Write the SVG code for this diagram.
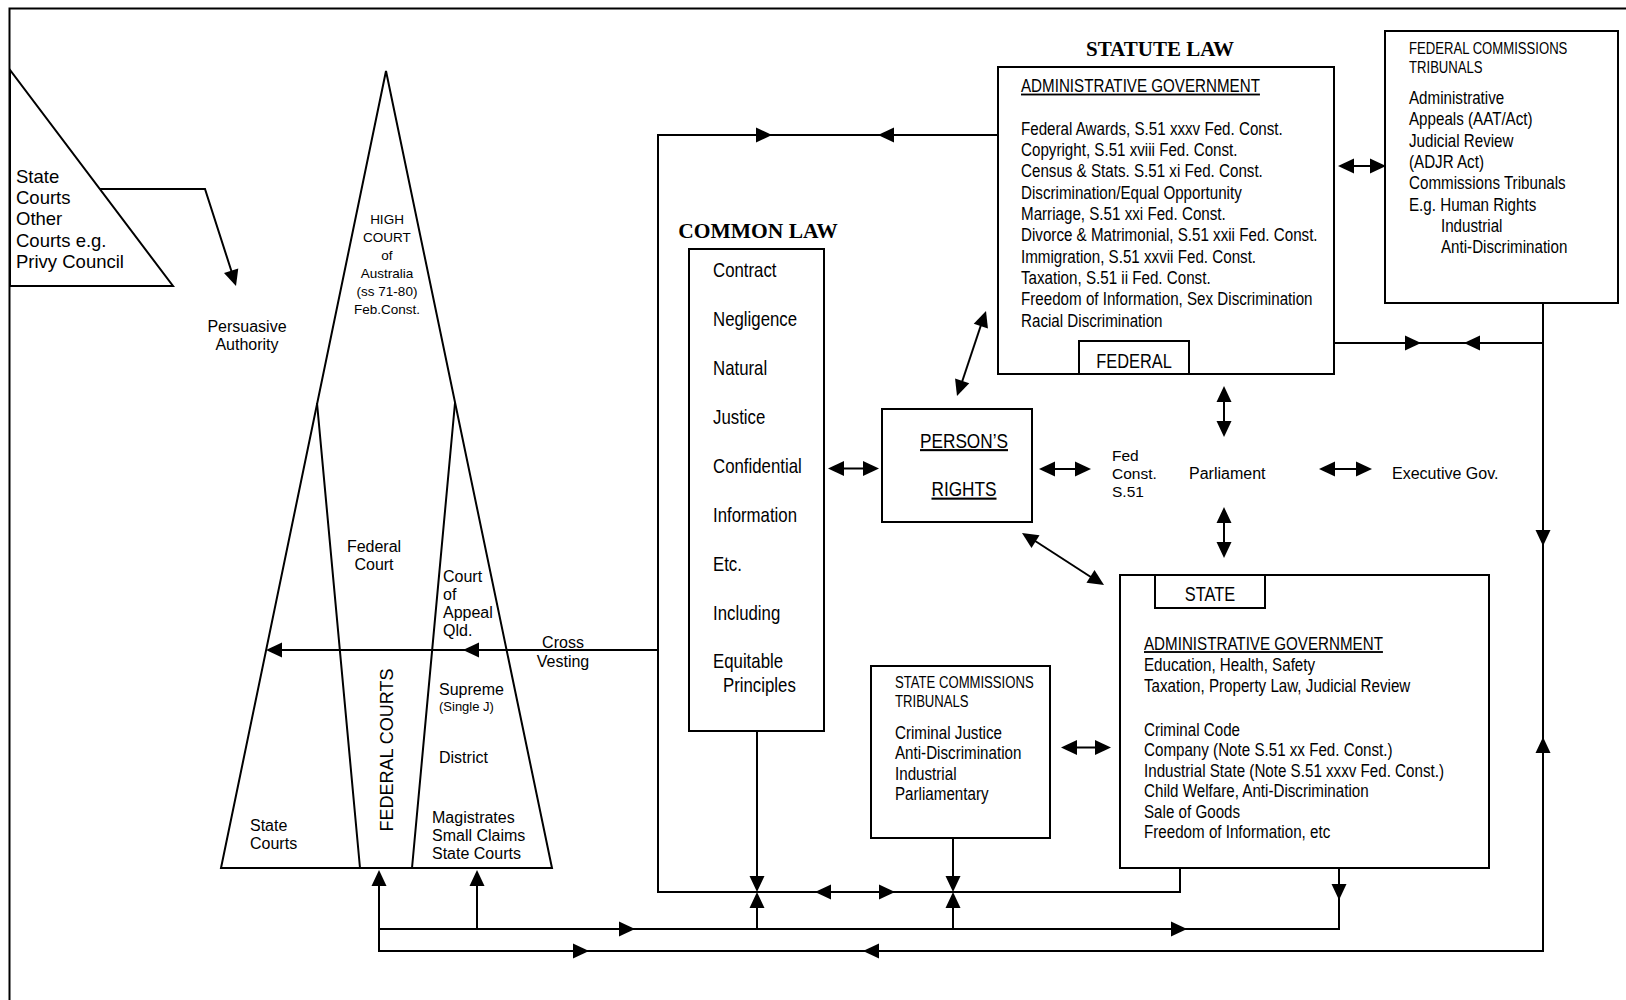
<svg xmlns="http://www.w3.org/2000/svg" xmlns:xlink="http://www.w3.org/1999/xlink" width="1626" height="1000" viewBox="0 0 1626 1000">
<style>
.n{font-family:"Liberation Sans",Arial,sans-serif;fill:#000}
.a{font-family:"Liberation Sans",Arial,sans-serif;fill:#000}
.b{font-family:"Liberation Serif","Times New Roman",serif;font-weight:bold;fill:#000}
.s{fill:none;stroke:#000;stroke-width:2}
.bx{fill:#fff;stroke:#000;stroke-width:2}
.u{text-decoration:underline}
.m{text-anchor:middle}
</style>
<defs>
<path id="ah" d="M0,0 L-16,-7.5 L-16,7.5 Z" fill="#000"/>
</defs>
<rect x="0" y="0" width="1626" height="1000" fill="#fff"/>
<path class="s" d="M9.5,1000 V8.5 H1626"/>

<g id="other-courts">
<polygon class="s" points="10,70 10,286 173,286"/>
<text class="a" font-size="18.5"><tspan x="16" y="183">State</tspan><tspan x="16" y="204">Courts</tspan><tspan x="16" y="225">Other</tspan><tspan x="16" y="246.5">Courts e.g.</tspan><tspan x="16" y="268">Privy Council</tspan></text>
</g>

<g id="persuasive-authority">
<text class="a m" font-size="16"><tspan x="247" y="332">Persuasive</tspan><tspan x="247" y="350">Authority</tspan></text>
</g>

<g id="court-hierarchy">
<polygon class="s" points="386,71 221,868 552,868"/>
<path class="s" d="M317,403 L360,868 M455,403 L412,868"/>
<text class="a m" font-size="13.5"><tspan x="387" y="224">HIGH</tspan><tspan x="387" y="242">COURT</tspan><tspan x="387" y="260">of</tspan><tspan x="387" y="278">Australia</tspan><tspan x="387" y="296">(ss 71-80)</tspan><tspan x="387" y="314">Feb.Const.</tspan></text>
<text class="a m" font-size="16"><tspan x="374" y="552">Federal</tspan><tspan x="374" y="570">Court</tspan></text>
<text class="a" font-size="16"><tspan x="443" y="582">Court</tspan><tspan x="443" y="600">of</tspan><tspan x="443" y="618">Appeal</tspan><tspan x="443" y="636">Qld.</tspan></text>
<text class="a" font-size="16" x="439" y="695">Supreme</text>
<text class="a" font-size="13" x="439" y="711">(Single J)</text>
<text class="a" font-size="16" x="439" y="763">District</text>
<text class="a" font-size="16"><tspan x="432" y="823">Magistrates</tspan><tspan x="432" y="841">Small Claims</tspan><tspan x="432" y="859">State Courts</tspan></text>
<text class="a" font-size="16"><tspan x="250" y="831">State</tspan><tspan x="250" y="849">Courts</tspan></text>
<text class="a m" font-size="18" transform="translate(393,750) rotate(-90)">FEDERAL COURTS</text>
</g>

<g id="cross-vesting-label">
<text class="a m" font-size="16"><tspan x="563" y="648">Cross</tspan><tspan x="563" y="667">Vesting</tspan></text>
</g>

<g id="common-law">
<text class="b m" font-size="21.5" x="758" y="238">COMMON LAW</text>
<rect class="bx" x="689" y="249" width="135" height="482"/>
<text class="n" font-size="20.5" transform="translate(713,0) scale(0.82,1)"><tspan x="0" y="277">Contract</tspan><tspan x="0" y="326">Negligence</tspan><tspan x="0" y="375">Natural</tspan><tspan x="0" y="424">Justice</tspan><tspan x="0" y="473">Confidential</tspan><tspan x="0" y="522">Information</tspan><tspan x="0" y="571">Etc.</tspan><tspan x="0" y="620">Including</tspan><tspan x="0" y="668.5">Equitable</tspan><tspan x="12.2" y="692.5">Principles</tspan></text>
</g>

<g id="federal-statute">
<text class="b m" font-size="21" x="1160" y="56">STATUTE LAW</text>
<rect class="bx" x="998" y="67" width="336" height="307"/>
<text class="n u" font-size="18.5" transform="translate(1021,0) scale(0.82,1)" x="0" y="92.5">ADMINISTRATIVE GOVERNMENT</text>
<text class="n" font-size="18.5" transform="translate(1021,0) scale(0.82,1)"><tspan x="0" y="135">Federal Awards, S.51 xxxv Fed. Const.</tspan><tspan x="0" y="156">Copyright, S.51 xviii Fed. Const.</tspan><tspan x="0" y="177.5">Census &amp; Stats. S.51 xi Fed. Const.</tspan><tspan x="0" y="199">Discrimination/Equal Opportunity</tspan><tspan x="0" y="220">Marriage, S.51 xxi Fed. Const.</tspan><tspan x="0" y="241.5">Divorce &amp; Matrimonial, S.51 xxii Fed. Const.</tspan><tspan x="0" y="263">Immigration, S.51 xxvii Fed. Const.</tspan><tspan x="0" y="284">Taxation, S.51 ii Fed. Const.</tspan><tspan x="0" y="305.5">Freedom of Information, Sex Discrimination</tspan><tspan x="0" y="327">Racial Discrimination</tspan></text>
<path class="s" d="M1079,374 V341 H1189 V374"/>
<text class="n m" font-size="20" transform="translate(1134,0) scale(0.82,1)" x="0" y="368">FEDERAL</text>
</g>

<g id="federal-commissions">
<rect class="bx" x="1385" y="31" width="233" height="272"/>
<text class="n" font-size="16" transform="translate(1409,0) scale(0.82,1)"><tspan x="0" y="54">FEDERAL COMMISSIONS</tspan><tspan x="0" y="73">TRIBUNALS</tspan></text>
<text class="n" font-size="18.5" transform="translate(1409,0) scale(0.82,1)"><tspan x="0" y="104">Administrative</tspan><tspan x="0" y="125.5">Appeals (AAT/Act)</tspan><tspan x="0" y="147">Judicial Review</tspan><tspan x="0" y="168">(ADJR Act)</tspan><tspan x="0" y="189.5">Commissions Tribunals</tspan><tspan x="0" y="211">E.g. Human Rights</tspan><tspan x="39" y="232">Industrial</tspan><tspan x="39" y="253.5">Anti-Discrimination</tspan></text>
</g>

<g id="persons-rights">
<rect class="bx" x="882" y="409" width="150" height="113"/>
<text class="n u m" font-size="21" transform="translate(964,0) scale(0.82,1)" x="0" y="448">PERSON’S</text>
<text class="n u m" font-size="21" transform="translate(964,0) scale(0.82,1)" x="0" y="496.5">RIGHTS</text>
</g>

<g id="fed-const">
<text class="a" font-size="15.5"><tspan x="1112" y="461">Fed</tspan><tspan x="1112" y="479">Const.</tspan><tspan x="1112" y="497">S.51</tspan></text>
</g>
<g id="parliament">
<text class="a" font-size="16" x="1189" y="479">Parliament</text>
</g>
<g id="executive-gov">
<text class="a" font-size="16" x="1392" y="479">Executive Gov.</text>
</g>

<g id="state-statute">
<rect class="bx" x="1120" y="575" width="369" height="293"/>
<path class="s" d="M1155,575 V608 H1265 V575"/>
<text class="n m" font-size="20" transform="translate(1210,0) scale(0.82,1)" x="0" y="601">STATE</text>
<text class="n u" font-size="18.5" transform="translate(1144,0) scale(0.82,1)" x="0" y="650">ADMINISTRATIVE GOVERNMENT</text>
<text class="n" font-size="18.5" transform="translate(1144,0) scale(0.82,1)"><tspan x="0" y="671">Education, Health, Safety</tspan><tspan x="0" y="692">Taxation, Property Law, Judicial Review</tspan><tspan x="0" y="736">Criminal Code</tspan><tspan x="0" y="756.5">Company (Note S.51 xx Fed. Const.)</tspan><tspan x="0" y="777">Industrial State (Note S.51 xxxv Fed. Const.)</tspan><tspan x="0" y="797.5">Child Welfare, Anti-Discrimination</tspan><tspan x="0" y="818">Sale of Goods</tspan><tspan x="0" y="838.5">Freedom of Information, etc</tspan></text>
</g>

<g id="state-commissions">
<rect class="bx" x="871" y="666" width="179" height="172"/>
<text class="n" font-size="16" transform="translate(895,0) scale(0.82,1)"><tspan x="0" y="688">STATE COMMISSIONS</tspan><tspan x="0" y="707">TRIBUNALS</tspan></text>
<text class="n" font-size="18.5" transform="translate(895,0) scale(0.82,1)"><tspan x="0" y="739">Criminal Justice</tspan><tspan x="0" y="759.5">Anti-Discrimination</tspan><tspan x="0" y="780">Industrial</tspan><tspan x="0" y="800.5">Parliamentary</tspan></text>
</g>

<g id="connectors">
<path class="s" d="M100,189 H205 L233,276"/>
<use xlink:href="#ah" transform="translate(236,286) rotate(72.3)"/>

<path class="s" d="M658,650 H272"/>
<use xlink:href="#ah" transform="translate(266,650) rotate(180)"/>
<use xlink:href="#ah" transform="translate(463,650) rotate(180)"/>

<path class="s" d="M998,135 H658 V892 H1180 V868"/>
<use xlink:href="#ah" transform="translate(772,135)"/>
<use xlink:href="#ah" transform="translate(878,135) rotate(180)"/>
<use xlink:href="#ah" transform="translate(815,892) rotate(180)"/>
<use xlink:href="#ah" transform="translate(895,892)"/>

<path class="s" d="M757,731 V884 M757,929 V900"/>
<use xlink:href="#ah" transform="translate(757,892) rotate(90)"/>
<use xlink:href="#ah" transform="translate(757,892) rotate(-90)"/>
<path class="s" d="M953,838 V884 M953,929 V900"/>
<use xlink:href="#ah" transform="translate(953,892) rotate(90)"/>
<use xlink:href="#ah" transform="translate(953,892) rotate(-90)"/>

<path class="s" d="M379,878 V951 H1543 V303"/>
<use xlink:href="#ah" transform="translate(379,870) rotate(-90)"/>
<use xlink:href="#ah" transform="translate(589,951)"/>
<use xlink:href="#ah" transform="translate(863,951) rotate(180)"/>
<use xlink:href="#ah" transform="translate(1543,546) rotate(90)"/>
<use xlink:href="#ah" transform="translate(1543,737) rotate(-90)"/>

<path class="s" d="M379,929 H1339 V868"/>
<use xlink:href="#ah" transform="translate(635,929)"/>
<use xlink:href="#ah" transform="translate(1187,929)"/>
<use xlink:href="#ah" transform="translate(1339,900) rotate(90)"/>
<path class="s" d="M477,929 V878"/>
<use xlink:href="#ah" transform="translate(477,870) rotate(-90)"/>

<path class="s" d="M1334,343 H1543"/>
<use xlink:href="#ah" transform="translate(1421,343)"/>
<use xlink:href="#ah" transform="translate(1464,343) rotate(180)"/>

<path class="s" d="M1346,166 H1378"/>
<use xlink:href="#ah" transform="translate(1338,166) rotate(180)"/>
<use xlink:href="#ah" transform="translate(1386,166)"/>

<path class="s" d="M836,468.5 H871"/>
<use xlink:href="#ah" transform="translate(828,468.5) rotate(180)"/>
<use xlink:href="#ah" transform="translate(879,468.5)"/>

<path class="s" d="M1047,469 H1083"/>
<use xlink:href="#ah" transform="translate(1039,469) rotate(180)"/>
<use xlink:href="#ah" transform="translate(1091,469)"/>

<path class="s" d="M1327,469 H1364"/>
<use xlink:href="#ah" transform="translate(1319,469) rotate(180)"/>
<use xlink:href="#ah" transform="translate(1372,469)"/>

<path class="s" d="M1224,394 V429 M1224,515 V550"/>
<use xlink:href="#ah" transform="translate(1224,386) rotate(-90)"/>
<use xlink:href="#ah" transform="translate(1224,437) rotate(90)"/>
<use xlink:href="#ah" transform="translate(1224,507) rotate(-90)"/>
<use xlink:href="#ah" transform="translate(1224,558) rotate(90)"/>

<path class="s" d="M983,319 L960,388"/>
<use xlink:href="#ah" transform="translate(986,311) rotate(-71.2)"/>
<use xlink:href="#ah" transform="translate(957,396) rotate(108.8)"/>

<path class="s" d="M1029,537 L1097,581"/>
<use xlink:href="#ah" transform="translate(1022,533) rotate(-147.6)"/>
<use xlink:href="#ah" transform="translate(1104,585) rotate(32.4)"/>

<path class="s" d="M1069,747.5 H1103"/>
<use xlink:href="#ah" transform="translate(1061,747.5) rotate(180)"/>
<use xlink:href="#ah" transform="translate(1111,747.5)"/>
</g>
</svg>
